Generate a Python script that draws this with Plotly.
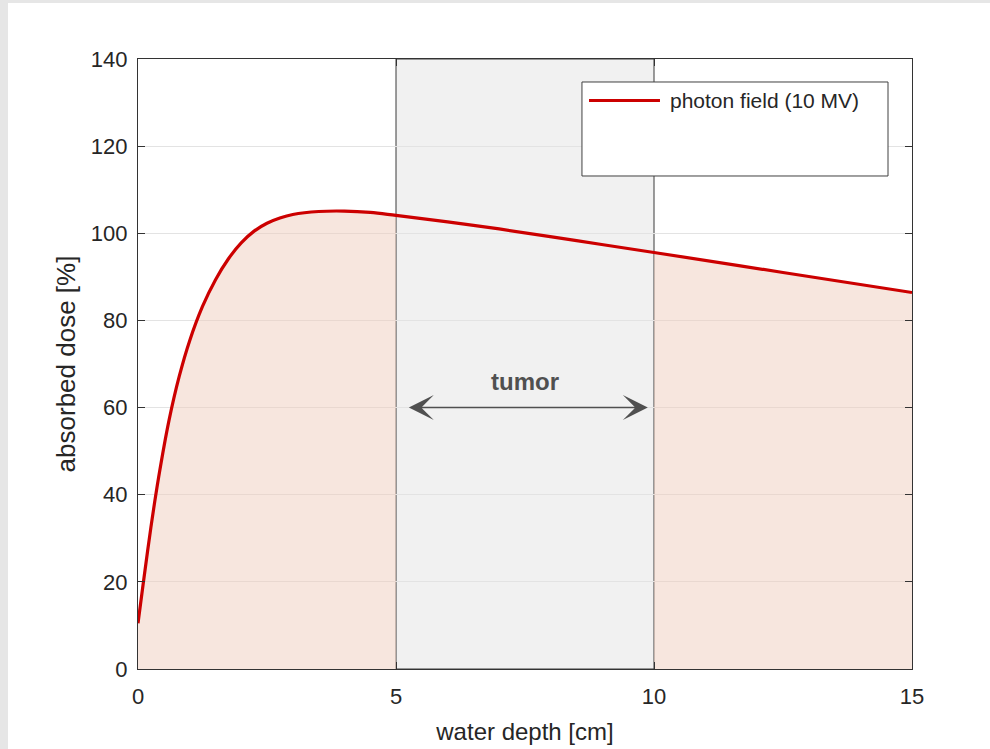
import plotly.graph_objects as go

# ---- data ----
depth_cm = [0, 0.1, 0.25, 0.4, 0.6, 0.8, 1.0, 1.25, 1.5, 1.75, 2.0, 2.25, 2.5, 2.75,
            3.0, 3.5, 4.0, 4.5, 5, 6, 7, 8.5, 10, 12.5, 15]
dose_pct = [10.5, 19.5, 32.5, 44, 57, 67.2, 75.3, 83.2, 89.3, 94.1, 97.8, 100.5, 102.3, 103.5,
            104.3, 105.0, 105.1, 104.8, 104.1, 102.6, 101.0, 98.3, 95.6, 91.0, 86.4]
tumor_start, tumor_end = 5, 10
x_ticks = [0, 5, 10, 15]
y_ticks = [0, 20, 40, 60, 80, 100, 120, 140]
series_name = "photon field (10 MV)"
tumor_label = "tumor"
tumor_arrow_y = 60

FONT = "Liberation Sans, Arial, Helvetica, sans-serif"
TXT = "#262626"
RED = "#cc0000"

left_x = [d for d in depth_cm if d <= tumor_start]
left_y = [v for d, v in zip(depth_cm, dose_pct) if d <= tumor_start]
right_x = [d for d in depth_cm if d >= tumor_end]
right_y = [v for d, v in zip(depth_cm, dose_pct) if d >= tumor_end]

fig = go.Figure()
fill_col = "rgba(240,205,190,0.5)"
for xs, ys in [(left_x, left_y), (right_x, right_y)]:
    fig.add_trace(go.Scatter(x=xs, y=ys, mode="lines", fill="tozeroy",
                             fillcolor=fill_col, line=dict(width=0, shape="spline", smoothing=1),
                             hoverinfo="skip", showlegend=False))
fig.add_trace(go.Scatter(x=depth_cm, y=dose_pct, mode="lines", name=series_name,
                         line=dict(color=RED, width=3.2, shape="spline", smoothing=1),
                         showlegend=False))

shapes = [
    # tumor region
    dict(type="rect", xref="x", yref="y", x0=tumor_start, x1=tumor_end, y0=0, y1=140,
         fillcolor="#f1f1f1", line=dict(color="#3a3a3a", width=1), layer="below"),
    # legend box
    dict(type="rect", xref="paper", yref="paper", x0=0.5736, x1=0.9690, y0=0.8082, y1=0.9623,
         fillcolor="white", line=dict(color="#404040", width=1), layer="above"),
    dict(type="line", xref="paper", yref="paper", x0=0.5827, x1=0.6744, y0=0.932, y1=0.932,
         line=dict(color=RED, width=3), layer="above"),
]

annotations = [
    dict(xref="paper", yref="paper", x=0.6848, y=0.932, xanchor="left", yanchor="middle",
         text=series_name, showarrow=False, font=dict(family=FONT, size=21, color=TXT)),
    dict(xref="x", yref="y", x=(tumor_start + tumor_end) / 2, y=66, text="<b>%s</b>" % tumor_label,
         showarrow=False, font=dict(family=FONT, size=24, color="#505050")),
    dict(xref="x", yref="y", axref="x", ayref="y", x=9.88, y=tumor_arrow_y,
         ax=5.22, ay=tumor_arrow_y, text="", showarrow=True, arrowside="end+start",
         arrowhead=3, startarrowhead=3, arrowwidth=1.6, arrowsize=2.6, startarrowsize=2.6,
         arrowcolor="#505050"),
]

axis_common = dict(showline=True, linecolor="#333333", linewidth=1.3, mirror="ticks",
                   ticks="inside", ticklen=7, tickwidth=1.2, tickcolor="#333333",
                   zeroline=False, tickfont=dict(family=FONT, size=22, color=TXT))

fig.update_layout(
    width=990, height=749, autosize=False,
    margin=dict(l=130, r=86, t=56, b=83),
    paper_bgcolor="white", plot_bgcolor="white",
    shapes=shapes, annotations=annotations, showlegend=False,
    xaxis=dict(range=[0, 15], tickvals=x_ticks, showgrid=False, ticklabelstandoff=7,
               title=dict(text="water depth [cm]", font=dict(family=FONT, size=24, color=TXT), standoff=15),
               **axis_common),
    yaxis=dict(range=[0, 140], tickvals=y_ticks, showgrid=True, gridcolor="#e3e3e3", gridwidth=1,
               ticklabelstandoff=5,
               title=dict(text="absorbed dose [%]", font=dict(family=FONT, size=26, color=TXT), standoff=7),
               **axis_common),
)

fig.write_html("out.html",
               post_script="document.body.style.margin='3px 0 0 8px';"
                           "document.body.style.background='#e6e6e6';"
                           "document.body.style.overflow='hidden';")
